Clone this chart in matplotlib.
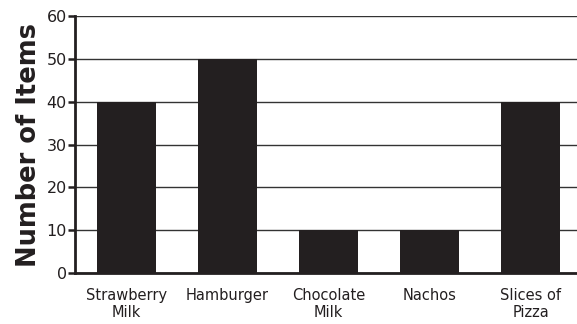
import numpy as np
import matplotlib
matplotlib.use('Agg')
import matplotlib.pyplot as plt

# data
categories = ['Strawberry\nMilk', 'Hamburger', 'Chocolate\nMilk', 'Nachos', 'Slices of\nPizza']
counts = [40, 50, 10, 10, 40]
yticks = [0, 10, 20, 30, 40, 50, 60]

fig = plt.figure(figsize=(5.77, 3.24), dpi=100)
ax = fig.add_axes([0.13, 0.157, 0.87, 0.794])

x = np.arange(len(categories))
ax.bar(x, counts, width=0.58, color='#231f20', zorder=3)

ax.set_xlim(-0.51, 4.46)
ax.set_ylim(0, 60)
ax.set_yticks(yticks)
ax.yaxis.grid(True, color='#333333', linewidth=1.0, zorder=0)
ax.set_axisbelow(True)

ax.set_xticks(x)
ax.set_xticklabels(categories, fontsize=10.5, va='top', linespacing=1.15, color='#231f20')
ax.tick_params(axis='x', length=0, pad=11)
ax.tick_params(axis='y', labelsize=11.5, length=5, width=1.8, pad=1, color='#231f20',
               labelcolor='#231f20')

for s in ['top', 'right']:
  ax.spines[s].set_visible(False)
ax.spines['left'].set_linewidth(2)
ax.spines['left'].set_color('#231f20')
ax.spines['bottom'].set_linewidth(2)
ax.spines['bottom'].set_color('#231f20')

ax.set_ylabel('Number of Items', fontsize=18.5, fontweight='bold', labelpad=3, color='#231f20')

fig.savefig('out.png', dpi=100)
